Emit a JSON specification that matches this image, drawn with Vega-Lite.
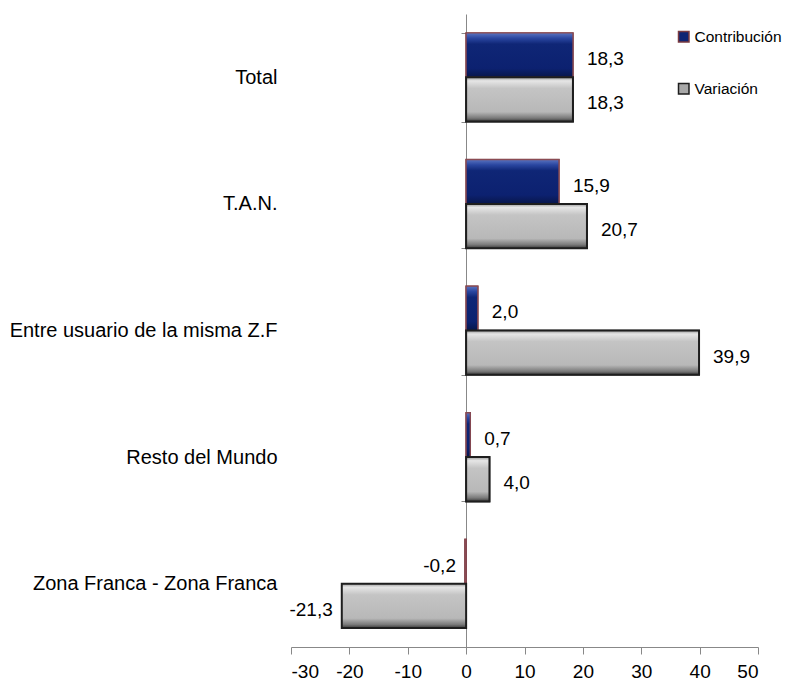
{
  "$schema": "https://vega.github.io/schema/vega-lite/v6.json",
  "width": 467,
  "height": 633,
  "autosize": {"type": "none"},
  "padding": {"left": 291, "top": 14, "right": 31, "bottom": 34},
  "background": "white",
  "config": {
    "view": {"stroke": null},
    "font": "Liberation Sans",
    "locale": {"number": {"decimal": ",", "thousands": ".", "grouping": [3], "currency": ["", ""], "minus": "-"}}
  },
  "data": {
    "values": [
      {"categoria": "Total", "serie": "Contribución", "valor": 18.3},
      {"categoria": "Total", "serie": "Variación", "valor": 18.3},
      {"categoria": "T.A.N.", "serie": "Contribución", "valor": 15.9},
      {"categoria": "T.A.N.", "serie": "Variación", "valor": 20.7},
      {"categoria": "Entre usuario de la misma Z.F", "serie": "Contribución", "valor": 2.0},
      {"categoria": "Entre usuario de la misma Z.F", "serie": "Variación", "valor": 39.9},
      {"categoria": "Resto del Mundo", "serie": "Contribución", "valor": 0.7},
      {"categoria": "Resto del Mundo", "serie": "Variación", "valor": 4.0},
      {"categoria": "Zona Franca - Zona Franca", "serie": "Contribución", "valor": -0.2},
      {"categoria": "Zona Franca - Zona Franca", "serie": "Variación", "valor": -21.3}
    ]
  },
  "encoding": {
    "y": {
      "field": "categoria",
      "type": "nominal",
      "sort": ["Total", "T.A.N.", "Entre usuario de la misma Z.F", "Resto del Mundo", "Zona Franca - Zona Franca"],
      "scale": {"paddingInner": 0.3, "paddingOuter": 0.15},
      "axis": {
        "title": null,
        "orient": "left",
        "offset": -175,
        "domainColor": "#888888",
        "tickColor": "#888888",
        "tickSize": 5,
        "tickBand": "extent",
        "labelPadding": 184,
        "labelFontSize": 20,
        "labelColor": "#000000",
        "labelLimit": 400
      }
    },
    "yOffset": {
      "field": "serie",
      "type": "nominal",
      "sort": ["Contribución", "Variación"],
      "scale": {"paddingInner": 0, "paddingOuter": 0}
    },
    "x": {
      "field": "valor",
      "type": "quantitative",
      "scale": {"domain": [-30, 50], "nice": false, "zero": false},
      "axis": {
        "title": null,
        "values": [-30, -20, -10, 0, 10, 20, 30, 40, 50],
        "format": "d",
        "grid": false,
        "domainColor": "#888888",
        "tickColor": "#888888",
        "tickSize": 7,
        "labelFontSize": 19,
        "labelColor": "#000000",
        "labelPadding": 8
      }
    }
  },
  "layer": [
    {
      "mark": {"type": "bar", "strokeWidth": 1.6},
      "encoding": {
        "color": {
          "field": "serie",
          "type": "nominal",
          "sort": ["Contribución", "Variación"],
          "scale": {"domain": ["Contribución", "Variación"], "range": ["#0f2473", "#a8a8a8"]},
          "legend": {
            "title": null,
            "orient": "none",
            "legendX": 385,
            "legendY": 15,
            "symbolType": "square",
            "symbolSize": 110,
            "symbolStrokeWidth": 1.5,
            "labelFontSize": 15.5,
            "labelColor": "#000000",
            "rowPadding": 34,
            "labelOffset": 3,
            "padding": 0
          }
        },
        "stroke": {
          "field": "serie",
          "type": "nominal",
          "scale": {"domain": ["Contribución", "Variación"], "range": ["#7a3a40", "#1e1e1e"]},
          "legend": null
        }
      }
    },
    {
      "mark": {"type": "bar"},
      "encoding": {
        "fill": {
          "condition": {
            "test": "datum.serie === 'Contribución'",
            "value": {
              "gradient": "linear", "x1": 0, "y1": 0, "x2": 0, "y2": 1,
              "stops": [
                {"offset": 0, "color": "#5a74c0"},
                {"offset": 0.12, "color": "#2a46a0"},
                {"offset": 0.25, "color": "#0f2676"},
                {"offset": 0.8, "color": "#0c2170"},
                {"offset": 1, "color": "#08164a"}
              ]
            }
          },
          "value": {
            "gradient": "linear", "x1": 0, "y1": 0, "x2": 0, "y2": 1,
            "stops": [
              {"offset": 0, "color": "#9a9a9a"},
              {"offset": 0.08, "color": "#e6e6e6"},
              {"offset": 0.25, "color": "#c4c4c4"},
              {"offset": 0.78, "color": "#b8b8b8"},
              {"offset": 0.92, "color": "#7a7a7a"},
              {"offset": 1, "color": "#3a3a3a"}
            ]
          }
        },
        "stroke": {
          "condition": {"test": "datum.serie === 'Contribución'", "value": "#8a4a52"},
          "value": "#1e1e1e"
        },
        "strokeWidth": {
          "condition": {"test": "datum.serie === 'Contribución'", "value": 1.2},
          "value": 2
        }
      }
    },
    {
      "transform": [{"filter": "datum.valor >= 0"}],
      "mark": {"type": "text", "align": "left", "baseline": "middle", "dx": 14, "dy": 4, "fontSize": 19, "color": "#000000"},
      "encoding": {
        "text": {"field": "valor", "type": "quantitative", "format": ".1f"}
      }
    },
    {
      "transform": [{"filter": "datum.valor < 0"}],
      "mark": {"type": "text", "align": "right", "baseline": "middle", "dx": -9, "dy": 4, "fontSize": 19, "color": "#000000"},
      "encoding": {
        "text": {"field": "valor", "type": "quantitative", "format": ".1f"}
      }
    }
  ]
}
